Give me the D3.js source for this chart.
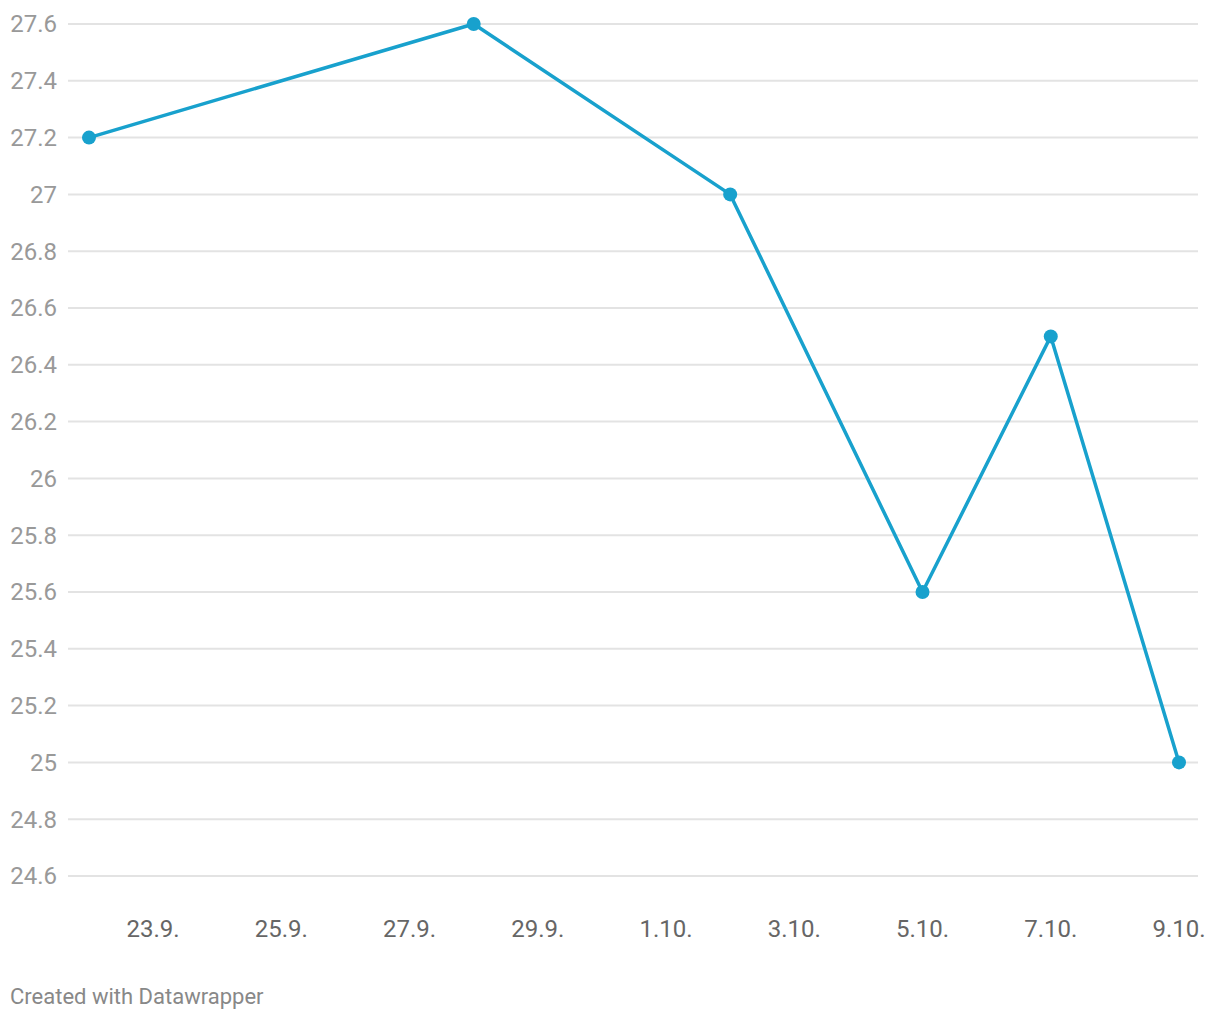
<!DOCTYPE html>
<html>
<head>
<meta charset="utf-8">
<script src="https://cdn.jsdelivr.net/npm/d3@7"></script>
<style>
  body { margin: 0; background: #fff; font-family: Roboto, sans-serif; }
  .grid line { stroke: #e3e3e3; stroke-width: 2; }
  .ylab { fill: #999; font-size: 24px; }
  .xlab { fill: #666; font-size: 24px; }
  .footer { fill: #888; font-size: 22px; }
</style>
</head>
<body>
<div id="chart"></div>
<script>
const dates = ['2023-09-22', '2023-09-28', '2023-10-02', '2023-10-05', '2023-10-07', '2023-10-09'];
const values = [27.2, 27.6, 27.0, 25.6, 26.5, 25.0];
const yTicks = [24.6, 24.8, 25, 25.2, 25.4, 25.6, 25.8, 26, 26.2, 26.4, 26.6, 26.8, 27, 27.2, 27.4, 27.6];
const xTickDates = ['2023-09-23', '2023-09-25', '2023-09-27', '2023-09-29', '2023-10-01', '2023-10-03', '2023-10-05', '2023-10-07', '2023-10-09'];

const width = 1220, height = 1020;
const parse = d3.timeParse('%Y-%m-%d');
const data = dates.map((d, i) => ({date: parse(d), value: values[i]}));

const svg = d3.select('#chart').append('svg').attr('width', width).attr('height', height);

const x = d3.scaleTime().domain(d3.extent(data, d => d.date)).range([89, 1179]);
const y = d3.scaleLinear().domain([24.6, 27.6]).range([876, 24]);

// grid
svg.append('g').attr('class', 'grid')
  .selectAll('line').data(yTicks).enter().append('line')
  .attr('x1', 68).attr('x2', 1198)
  .attr('y1', d => y(d)).attr('y2', d => y(d));

svg.append('g').selectAll('text').data(yTicks).enter().append('text')
  .attr('class', 'ylab')
  .attr('x', 57).attr('y', d => y(d)).attr('dy', '0.35em')
  .attr('text-anchor', 'end')
  .text(d => d3.format('~g')(d));

const fmt = d3.timeFormat('%-d.%-m.');
svg.append('g').selectAll('text').data(xTickDates.map(parse)).enter().append('text')
  .attr('class', 'xlab')
  .attr('x', d => x(d)).attr('y', 929).attr('dy', '0.35em')
  .attr('text-anchor', 'middle')
  .text(d => fmt(d));

const line = d3.line().x(d => x(d.date)).y(d => y(d.value));
svg.append('path').datum(data)
  .attr('d', line)
  .attr('fill', 'none')
  .attr('stroke', '#18a1cd')
  .attr('stroke-width', 3.5)
  .attr('stroke-linejoin', 'round');

svg.append('g').selectAll('circle').data(data).enter().append('circle')
  .attr('cx', d => x(d.date)).attr('cy', d => y(d.value))
  .attr('r', 7).attr('fill', '#18a1cd');

svg.append('text').attr('class', 'footer')
  .attr('x', 10).attr('y', 1004)
  .text('Created with Datawrapper');
</script>
</body>
</html>
